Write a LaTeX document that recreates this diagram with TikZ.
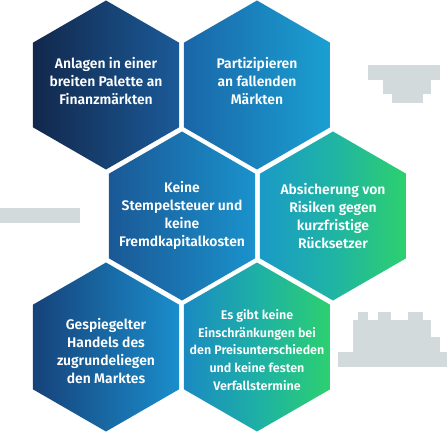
\documentclass[tikz,border=0pt]{standalone}
\usepackage{fontspec}
\setmainfont{Fira Sans SemiBold}
\definecolor{blob}{HTML}{D3DADC}
\definecolor{aL}{HTML}{12284C}\definecolor{aR}{HTML}{1B5A98}
\definecolor{bL}{HTML}{1A66A8}\definecolor{bR}{HTML}{1AA0D2}
\definecolor{cL}{HTML}{1A5896}\definecolor{cR}{HTML}{1A92CC}
\definecolor{dL}{HTML}{1A9AC8}\definecolor{dM}{HTML}{1FB4A4}\definecolor{dR}{HTML}{2DD06E}
\definecolor{eL}{HTML}{16427A}\definecolor{eR}{HTML}{1A8ECC}
\definecolor{fL}{HTML}{1A8AC2}\definecolor{fM}{HTML}{1EB0A6}\definecolor{fR}{HTML}{2CD070}
\newcommand\hexR{84.5}
\newcommand\hexat[1]{(#1) +(30:\hexR) -- +(90:\hexR) -- +(150:\hexR) -- +(210:\hexR) -- +(270:\hexR) -- +(330:\hexR) -- cycle}
\tikzset{
  hextext/.style={text=white, align=center, inner sep=0pt, font=\fontsize{13.9}{18}\selectfont},
  smalltext/.style={hextext, font=\fontsize{12.5}{17.6}\selectfont},
  blobfill/.style={fill=blob, draw=none}
}
\begin{document}
\begin{tikzpicture}[x=1pt,y=-1pt]
\useasboundingbox[fill=white] (0,0) rectangle (447,433);
\coordinate (h1) at (106,85);
\coordinate (h2) at (257,85);
\coordinate (h3) at (182,216);
\coordinate (h4) at (333,216);
\coordinate (h5) at (106,347);
\coordinate (h6) at (257,347);
\shade[left color=aL, right color=aR] \hexat{h1};
\shade[left color=bL, right color=bR] \hexat{h2};
\shade[left color=cL, right color=cR] \hexat{h3};
\shade[left color=dL, right color=dR, middle color=dM] \hexat{h4};
\shade[left color=eL, right color=eR] \hexat{h5};
\shade[left color=fL, right color=fR, middle color=fM] \hexat{h6};
% blurred grey blobs
\path[blobfill] (368,65) rectangle (440,80);
\path[blobfill] (383,80) rectangle (431,94);
\path[blobfill] (392,94) rectangle (423,103);
\path[blobfill] (0,208) rectangle (80,223);
\path[blobfill] (358,312) rectangle (368,320);
\path[blobfill] (378,312) rectangle (391,320);
\path[blobfill] (408,312) rectangle (423,320);
\path[blobfill] (353,320) rectangle (431,337);
\path[blobfill] (353,337) rectangle (440,352);
\path[blobfill] (338,352) rectangle (447,367);
% texts
\node[hextext] (t1) at (106,81) {Anlagen in einer\\breiten Palette an\\Finanzmärkten};
\node[hextext] (t2) at (257,81) {Partizipieren\\an fallenden\\Märkten};
\node[hextext] (t3) at (182,215) {Keine\\Stempelsteuer und\\keine\\Fremdkapitalkosten};
\node[hextext] (t4) at (333,216) {Absicherung von\\Risiken gegen\\kurzfristige\\Rücksetzer};
\node[hextext] (t5) at (106,351) {Gespiegelter\\Handels des\\zugrundeliegen\\den Marktes};
\node[smalltext] (t6) at (257,350) {Es gibt keine\\Einschränkungen bei\\den Preisunterschieden\\und keine festen\\Verfallstermine};
\end{tikzpicture}
\end{document}
